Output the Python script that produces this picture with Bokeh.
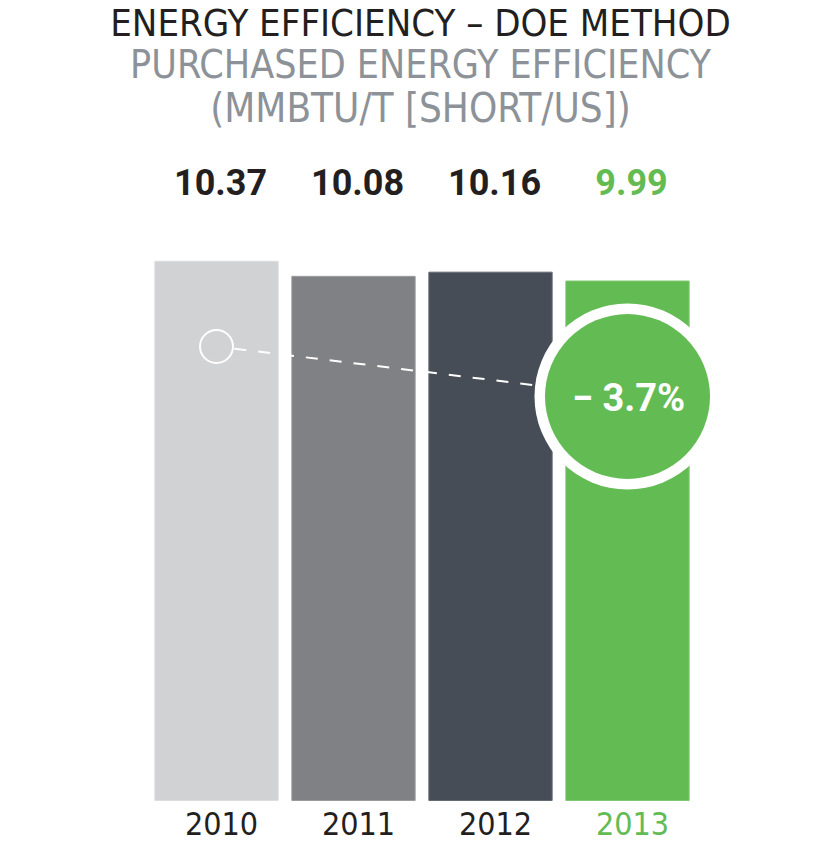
from bokeh.plotting import figure
from bokeh.models import Range1d, Label, ColumnDataSource
from bokeh.core.properties import value
from bokeh.embed import file_html
from bokeh.resources import INLINE

# ---------------- data ----------------
years = ["2010", "2011", "2012", "2013"]
efficiency = [10.37, 10.08, 10.16, 9.99]
bar_colors = ["#d1d2d4", "#808184", "#474d56", "#63bb54"]
bar_edges = ["#dcdddf", "#9a9b9e", "#646a73", "#7ec972"]
label_colors = ["#231f20", "#231f20", "#231f20", "#63bb54"]
title_line1 = "ENERGY EFFICIENCY \u2013 DOE METHOD"
title_line2 = "PURCHASED ENERGY EFFICIENCY"
title_line3 = "(MMBTU/T [SHORT/US])"

change_pct = (efficiency[-1] - efficiency[0]) / efficiency[0] * 100.0
change_label = "\u2212 %.1f%%" % abs(change_pct)

# ---------------- layout helpers ----------------
W, H = 824, 843
PX_PER_UNIT = 52.0          # vertical px per MMBtu/t
BASELINE_ROW = 800.0        # pixel row of the zero line
Y0 = -(H - BASELINE_ROW) / PX_PER_UNIT
PITCH = 137.0               # px between bar centres
FIRST_CENTRE = 216.0        # px of first bar centre
X0 = -FIRST_CENTRE / PITCH


def ry(r):
    """pixel row (from top) -> data y"""
    return (H - r) / PX_PER_UNIT + Y0


NARROW_STR = "'Liberation Sans Narrow', 'DejaVu Sans Condensed', 'Roboto Condensed', sans-serif"
NARROW = value(NARROW_STR)
BOLD = value("Roboto")

p = figure(
    width=W, height=H,
    x_range=Range1d(X0, X0 + W / PITCH),
    y_range=Range1d(Y0, Y0 + H / PX_PER_UNIT),
    output_backend="svg", toolbar_location=None, min_border=0,
)
p.axis.visible = False
p.grid.visible = False
p.outline_line_color = None
p.background_fill_color = "white"
p.border_fill_color = "white"

xs = list(range(len(years)))
src = ColumnDataSource(dict(x=xs, year=years, value=efficiency, color=bar_colors,
                            edge=bar_edges, lc=label_colors,
                            txt=["%.2f" % v for v in efficiency]))

p.vbar(x="x", top="value", bottom=0, width=0.9, fill_color="color",
       line_color="edge", line_width=1, source=src)

# trend marker: from first year to last year
y_start = ry(346)
y_end = ry(396)
p.line(x=[xs[0], xs[-1]], y=[y_start, y_end], line_color="white",
       line_width=2, line_dash="12 12", line_dash_offset=6)
p.scatter(x=[xs[0]], y=[y_start], size=33, marker="circle",
          fill_color=bar_colors[0], line_color="white", line_width=2)
p.scatter(x=[xs[-1]], y=[y_end], size=186, marker="circle",
          fill_color="white", line_color=None)
p.scatter(x=[xs[-1]], y=[y_end], size=165, marker="circle",
          fill_color=bar_colors[-1], line_color=None)
p.text(x=[xs[-1]], y=[y_end], text=[change_label], text_align="center",
       text_baseline="middle", text_color="white", text_font=BOLD,
       text_font_style="bold", text_font_size="38px", x_offset=1, y_offset=1)

# value labels
p.text(x="x", y=ry(181), text="txt", source=src, text_align="center",
       text_baseline="middle", text_color="lc", text_font=BOLD,
       text_font_style="bold", text_font_size="36px", x_offset=4)

# year labels
p.text(x="x", y=ry(823), text="year", source=src, text_align="center",
       text_baseline="middle", text_color="lc", text_font=NARROW,
       text_font_size="32px", x_offset=5)

# titles
for txt, mid, col, fs in [(title_line1, 22, "#231f20", "38px"),
                          (title_line2, 64, "#8c9298", "39px"),
                          (title_line3, 107, "#8c9298", "40px")]:
    p.add_layout(Label(x=420, x_units="screen", y=ry(mid), text=txt,
                       text_align="center", text_baseline="middle",
                       text_color=col, text_font=NARROW_STR,
                       text_font_size=fs))

open("out.html", "w").write(file_html(p, INLINE))
